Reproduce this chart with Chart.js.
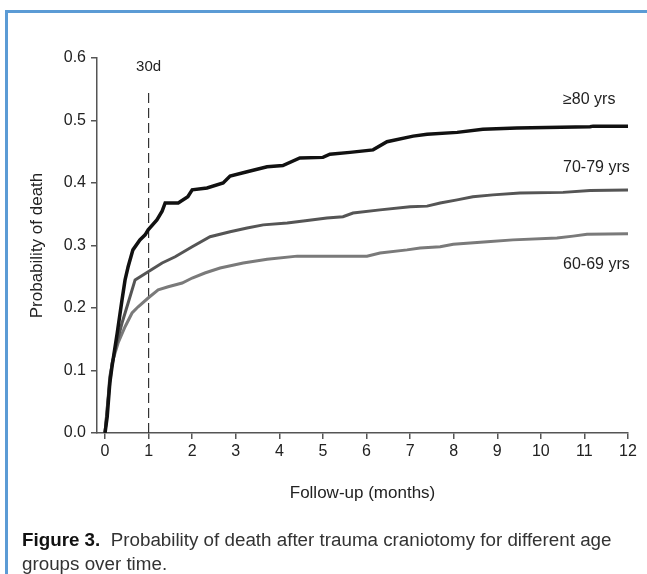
<!DOCTYPE html>
<html>
<head>
<meta charset="utf-8">
<script src="https://cdn.jsdelivr.net/npm/chart.js@4"></script>
<style>
html, body { margin: 0; padding: 0; background: #fff; }
#wrap { position: relative; width: 647px; height: 574px; overflow: hidden; }
#frame { position: absolute; left: 5px; top: 10px; right: -5px; bottom: -5px;
  border-top: 3px solid #5b9bd5; border-left: 3px solid #5b9bd5; }
canvas { position: absolute; left: 0; top: 0; }
#caption { position: absolute; left: 22px; top: 528px; font-family: "Liberation Sans", Arial, sans-serif;
  font-size: 18.8px; line-height: 24px; color: #333; white-space: nowrap; }
#caption b { color: #111; }
</style>
</head>
<body>
<div id="wrap">
  <div id="frame"></div>
  <canvas id="survChart" width="647" height="574"></canvas>
  <div id="caption"><b>Figure 3.</b>&nbsp; Probability of death after trauma craniotomy for different age<br>groups over time.</div>
</div>
<script>
// values
const xTicks = [0, 1, 2, 3, 4, 5, 6, 7, 8, 9, 10, 11, 12];
const yTicks = [0, 0.1, 0.2, 0.3, 0.4, 0.5, 0.6];

const months80 = [0, 0.05, 0.11, 0.16, 0.28, 0.39, 0.46, 0.53, 0.64, 0.80, 0.92, 0.99, 1.19, 1.31, 1.38, 1.68, 1.90, 2.0, 2.34, 2.71, 2.87, 3.26, 3.72, 4.08, 4.47, 5.0, 5.16, 5.62, 6.15, 6.47, 7.07, 7.39, 8.08, 8.67, 9.45, 11.13, 11.2, 12];
const prob80 = [0, 0.026, 0.08, 0.106, 0.16, 0.213, 0.245, 0.266, 0.293, 0.309, 0.317, 0.325, 0.341, 0.355, 0.368, 0.368, 0.378, 0.389, 0.392, 0.40, 0.411, 0.418, 0.426, 0.428, 0.44, 0.441, 0.446, 0.449, 0.453, 0.466, 0.475, 0.478, 0.481, 0.486, 0.488, 0.49, 0.491, 0.491];

const months70 = [0, 0.05, 0.11, 0.23, 0.39, 0.53, 0.69, 0.99, 1.31, 1.61, 2.0, 2.41, 2.87, 3.26, 3.63, 4.18, 4.64, 5.09, 5.46, 5.69, 6.31, 7.0, 7.39, 7.69, 8.08, 8.44, 8.9, 9.52, 10.51, 11.13, 12];
const prob70 = [0, 0.037, 0.09, 0.133, 0.176, 0.208, 0.245, 0.258, 0.272, 0.282, 0.298, 0.314, 0.322, 0.328, 0.333, 0.336, 0.34, 0.344, 0.346, 0.352, 0.357, 0.362, 0.363, 0.368, 0.373, 0.378, 0.381, 0.384, 0.385, 0.388, 0.389];

const months60 = [0, 0.05, 0.16, 0.30, 0.46, 0.62, 0.76, 0.99, 1.22, 1.45, 1.77, 2.0, 2.29, 2.64, 3.17, 3.72, 4.41, 6.01, 6.31, 6.93, 7.23, 7.69, 7.99, 8.77, 9.36, 10.37, 10.74, 11.06, 12];
const prob60 = [0, 0.04, 0.112, 0.144, 0.17, 0.192, 0.202, 0.216, 0.229, 0.234, 0.24, 0.248, 0.256, 0.264, 0.272, 0.278, 0.283, 0.283, 0.288, 0.293, 0.296, 0.298, 0.302, 0.306, 0.309, 0.312, 0.315, 0.318, 0.319];

const cutMonth = 1;
const cutLine = [0, 0.545];

const groupLabels = ['≥80 yrs', '70-79 yrs', '60-69 yrs'];
const labelPos = [0.534, 0.424, 0.269];
const labelMonth = 10.51;

function toPoints(xs, ys) {
    return xs.map((x, i) => ({x: x, y: ys[i]}));
}

const axisColor = '#555';
const fontFamily = '"Liberation Sans", Arial, sans-serif';

Chart.register({
    id: 'figureText',
    afterDatasetsDraw(chart) {
        const {ctx} = chart;
        const xs = chart.scales.x;
        const ys = chart.scales.y;
        ctx.save();
        ctx.fillStyle = '#222';
        ctx.textBaseline = 'middle';
        ctx.font = '15px ' + fontFamily;
        ctx.textAlign = 'center';
        ctx.fillText('30d', xs.getPixelForValue(cutMonth), ys.getPixelForValue(0.586));
        ctx.font = '16px ' + fontFamily;
        ctx.textAlign = 'left';
        groupLabels.forEach((t, i) => {
            ctx.fillText(t, xs.getPixelForValue(labelMonth), ys.getPixelForValue(labelPos[i]));
        });
        ctx.restore();
    }
});

new Chart(document.getElementById('survChart'), {
    type: 'line',
    data: {
        datasets: [
            {
                label: '≥80 yrs',
                data: toPoints(months80, prob80),
                borderColor: '#111',
                borderWidth: 3.5
            },
            {
                label: '70-79 yrs',
                data: toPoints(months70, prob70),
                borderColor: '#555',
                borderWidth: 3
            },
            {
                label: '60-69 yrs',
                data: toPoints(months60, prob60),
                borderColor: '#7a7a7a',
                borderWidth: 3
            },
            {
                label: '30d',
                data: [{x: cutMonth, y: cutLine[0]}, {x: cutMonth, y: cutLine[1]}],
                borderColor: '#333',
                borderWidth: 1.2,
                borderDash: [10, 5]
            }
        ]
    },
    options: {
        responsive: false,
        animation: false,
        elements: {
            point: {radius: 0},
            line: {tension: 0, borderCapStyle: 'butt', borderJoinStyle: 'miter'}
        },
        layout: {
            padding: {left: 27, top: 58, right: 19, bottom: 70}
        },
        plugins: {
            legend: {display: false},
            tooltip: {enabled: false}
        },
        scales: {
            x: {
                type: 'linear',
                min: -0.184,
                max: 12,
                afterBuildTicks(scale) {
                    scale.ticks = xTicks.map(v => ({value: v}));
                },
                afterFit(scale) {
                    scale.height = 71;
                },
                ticks: {
                    color: '#222',
                    padding: 3,
                    maxRotation: 0,
                    font: {family: fontFamily, size: 16}
                },
                grid: {
                    drawOnChartArea: false,
                    tickLength: 6,
                    color: axisColor,
                    lineWidth: 1.5
                },
                border: {color: axisColor, width: 1.5},
                title: {
                    display: true,
                    text: 'Follow-up (months)',
                    color: '#222',
                    padding: 0,
                    font: {family: fontFamily, size: 17}
                }
            },
            y: {
                min: 0,
                max: 0.6,
                afterBuildTicks(scale) {
                    scale.ticks = yTicks.map(v => ({value: v}));
                },
                afterFit(scale) {
                    scale.width = 70;
                },
                ticks: {
                    color: '#222',
                    padding: 5,
                    callback: v => v.toFixed(1),
                    font: {family: fontFamily, size: 16}
                },
                grid: {
                    drawOnChartArea: false,
                    tickLength: 6,
                    color: axisColor,
                    lineWidth: 1.5
                },
                border: {color: axisColor, width: 1.5},
                title: {
                    display: true,
                    text: 'Probability of death',
                    color: '#222',
                    padding: 0,
                    font: {family: fontFamily, size: 17}
                }
            }
        }
    }
});
</script>
</body>
</html>
